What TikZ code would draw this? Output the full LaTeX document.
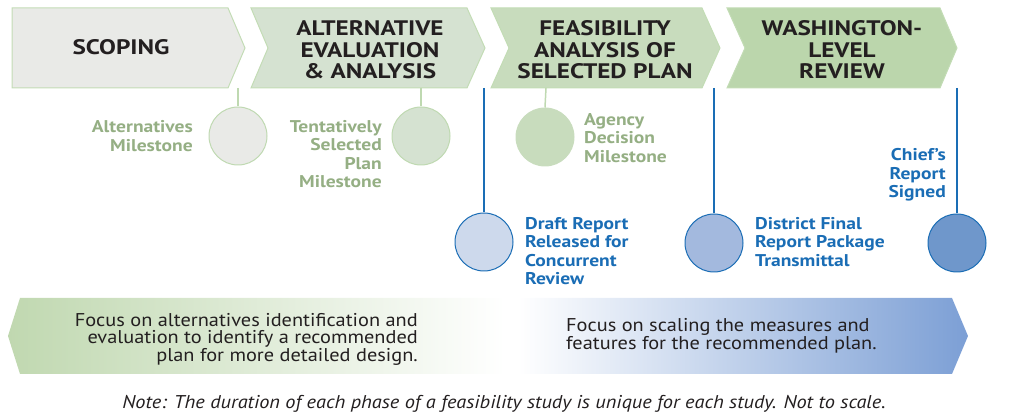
\documentclass[tikz,border=0pt]{standalone}
\usepackage{fontspec}
\setmainfont{PT Sans}
\newfontfamily\headfont[FakeStretch=1.2]{PT Sans}
\newfontfamily\msfont[FakeStretch=1.15]{PT Sans}
\newfontfamily\bodyfont[FakeStretch=1.1]{PT Sans}
\definecolor{chA}{HTML}{E9EAE7}
\definecolor{chB}{HTML}{D5E2D1}
\definecolor{chC}{HTML}{C8DCBD}
\definecolor{chD}{HTML}{BBD6AC}
\definecolor{chBorder}{HTML}{C3DCB5}
\definecolor{msGreen}{HTML}{95AF84}
\definecolor{lnGreen}{HTML}{BFD9B1}
\definecolor{blueMain}{HTML}{1A6DB5}
\definecolor{bcA}{HTML}{CDD9EC}
\definecolor{bcB}{HTML}{A3B9DE}
\definecolor{bcC}{HTML}{6F97CB}
\definecolor{arrGreen}{HTML}{C0D8B0}
\definecolor{arrBlue}{HTML}{7C9FD5}
\definecolor{headText}{HTML}{231F20}
\tikzset{
  chevron/.style={draw=chBorder, line width=1pt},
  headtxt/.style={font=\headfont\bfseries\fontsize{21}{21.5}\selectfont, text=headText, align=center, inner sep=0pt},
  gmstxt/.style={font=\msfont\bfseries\fontsize{17}{18.5}\selectfont, text=msGreen, inner sep=0pt},
  bmstxt/.style={font=\msfont\bfseries\fontsize{17}{18.5}\selectfont, text=blueMain, inner sep=0pt},
  gcirc/.style={circle, minimum size=58pt, inner sep=0pt, draw=lnGreen, line width=1pt},
  bcirc/.style={circle, minimum size=58pt, inner sep=0pt, draw=blueMain, line width=1pt},
  gline/.style={draw=lnGreen, line width=1.5pt},
  bline/.style={draw=blueMain, line width=1.5pt},
  bodytxt/.style={font=\bodyfont\fontsize{18.5}{17.5}\selectfont, text=headText, inner sep=0pt},
}
\begin{document}
\begin{tikzpicture}[x=1pt,y=-1pt]
\useasboundingbox (0,0) rectangle (1013,419);
% chevrons
\path[chevron, fill=chA] (12,8) -- (228,8) -- (245,48) -- (228,88) -- (12,88) -- cycle;
\path[chevron, fill=chB] (251,8) -- (467,8) -- (485,48) -- (467,88) -- (251,88) -- (268,48) -- cycle;
\path[chevron, fill=chC] (491,8) -- (702,8) -- (720,48) -- (702,88) -- (491,88) -- (509,48) -- cycle;
\path[chevron, fill=chD] (727,8) -- (940,8) -- (957,48) -- (940,88) -- (727,88) -- (745,48) -- cycle;
\node[headtxt] (scoping) at (121,47) {SCOPING};
\node[headtxt] (alteval) at (370,50) {ALTERNATIVE\\EVALUATION\\\&~ANALYSIS};
\node[headtxt] (feas) at (605,50) {FEASIBILITY\\ANALYSIS OF\\SELECTED PLAN};
\node[headtxt] (wash) at (842,50) {WASHINGTON-\\LEVEL\\REVIEW};
% anchor coordinates on chevron bottoms
\coordinate (cA) at (238,88);
\coordinate (cB) at (421,88);
\coordinate (cC) at (546,88);
\coordinate (bA) at (484,88);
\coordinate (bB) at (714,88);
\coordinate (bC) at (957,88);
% green milestones
\node[gcirc, fill=chA] (mA) at (238,136) {};
\node[gcirc, fill=chB] (mB) at (421,136) {};
\node[gcirc, fill=chC, draw=chC] (mC) at (545,137) {};
\draw[gline] (cA) -- (mA.north);
\draw[gline] (cB) -- (mB.north);
\draw[gline] (cC) -- (mC.north);
\node[gmstxt, anchor=east, align=right] (tA) at (193,136) {Alternatives\\Milestone};
\node[gmstxt, anchor=east, align=right] (tB) at (382,154) {Tentatively\\Selected\\Plan\\Milestone};
\node[gmstxt, anchor=west, align=left] (tC) at (584,138) {Agency\\Decision\\Milestone};
% blue milestones
\node[bcirc, fill=bcA] (nA) at (484,242) {};
\node[bcirc, fill=bcB] (nB) at (714,243) {};
\node[bcirc, fill=bcC] (nC) at (957,243) {};
\draw[bline] (bA) -- (nA.north);
\draw[bline] (bB) -- (nB.north);
\draw[bline] (bC) -- (nC.north);
\node[bmstxt, anchor=west, align=left] (uA) at (525,251) {Draft Report\\Released for\\Concurrent\\Review};
\node[bmstxt, anchor=west, align=left] (uB) at (755,242) {District Final\\Report Package\\Transmittal};
\node[bmstxt, anchor=east, align=right] (uC) at (946,175) {Chief’s\\Report\\Signed};
% bottom arrows
\path[left color=arrGreen, right color=white] (20,298) -- (505,298) -- (505,374) -- (20,374) -- (8,336) -- cycle;
\path[left color=white, right color=arrBlue] (518,298) -- (952,298) -- (968,336) -- (952,374) -- (518,374) -- cycle;
\node[bodytxt, anchor=east, align=right] (leftTxt) at (418,339) {Focus on alternatives identification and\\evaluation to identify a recommended\\plan for more detailed design.};
\node[bodytxt, anchor=west, align=left] (rightTxt) at (566,336) {Focus on scaling the measures and\\features for the recommended plan.};
\node[bodytxt, font=\bodyfont\itshape\fontsize{18.5}{17.5}\selectfont] (note) at (504,404) {Note: The duration of each phase of a feasibility study is unique for each study. Not to scale.};
\end{tikzpicture}
\end{document}
